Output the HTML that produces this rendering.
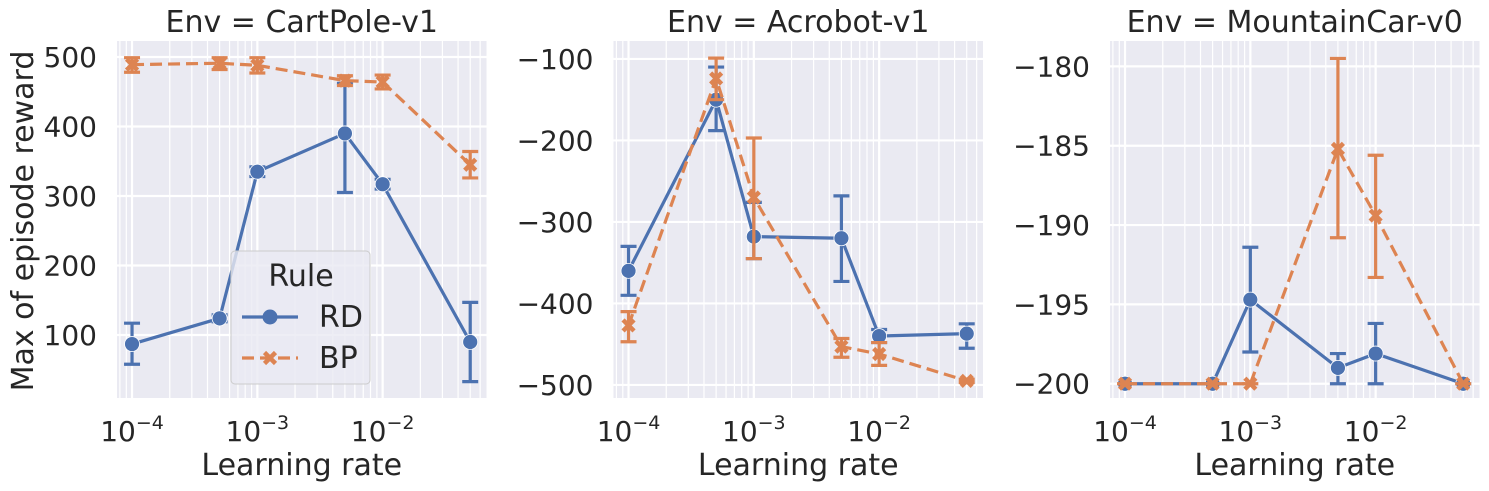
<!DOCTYPE html>
<html><head><meta charset="utf-8"><style>
html,body{margin:0;padding:0;background:#fff;}
svg{display:block;font-family:"DejaVu Sans","Liberation Sans",sans-serif;}
</style></head><body>
<svg id="chart" width="1489" height="491" viewBox="0 0 1489 491" xmlns="http://www.w3.org/2000/svg"></svg>
<script>
const lrs = [1e-4, 5e-4, 1e-3, 5e-3, 1e-2, 5e-2];
const envNames = ["CartPole-v1", "Acrobot-v1", "MountainCar-v0"];
const rdCart = [87, 124, 335, 390, 317, 90];
const rdCartLo = [58, 119, 328, 305, 310, 33];
const rdCartHi = [117, 129, 342, 462, 324, 147];
const bpCart = [489, 491, 488, 466, 464, 345];
const bpCartLo = [478, 482, 477, 459, 454, 326];
const bpCartHi = [499, 499, 499, 473, 474, 364];
const rdAcro = [-360, -150, -318, -320, -440, -437];
const rdAcroLo = [-390, -188, -345, -373, -448, -455];
const rdAcroHi = [-330, -110, -276, -268, -432, -425];
const bpAcro = [-427, -124, -270, -453, -462, -495];
const bpAcroLo = [-447, -150, -345, -466, -476, -497];
const bpAcroHi = [-410, -99, -197, -443, -448, -493];
const rdMC = [-200, -200, -194.7, -199, -198.1, -200];
const rdMCLo = [-200, -200, -198, -200, -200, -200];
const rdMCHi = [-200, -200, -191.4, -198.1, -196.2, -200];
const bpMC = [-200, -200, -200, -185.2, -189.4, -200];
const bpMCLo = [-200, -200, -200, -190.8, -193.3, -200];
const bpMCHi = [-200, -200, -200, -179.5, -185.6, -200];
const yTicksCart = [100, 200, 300, 400, 500];
const yTicksAcro = [-500, -400, -300, -200, -100];
const yTicksMC = [-200, -195, -190, -185, -180];
const xTickExps = [-4, -3, -2];

const NS = "http://www.w3.org/2000/svg";
const svg = document.getElementById("chart");
function mk(tag, attrs, parent) {
  const e = document.createElementNS(NS, tag);
  for (const k in attrs) e.setAttribute(k, attrs[k]);
  (parent || svg).appendChild(e);
  return e;
}
const BLUE = "#4c72b0", ORANGE = "#dd8452";
const FS = 28;
const panels = [
  {left:117, ymin:9.4, ymax:523, ticks:yTicksCart, rd:[rdCart,rdCartLo,rdCartHi], bp:[bpCart,bpCartLo,bpCartHi], fmt:v=>String(v)},
  {left:613.5, ymin:-516, ymax:-78, ticks:yTicksAcro, rd:[rdAcro,rdAcroLo,rdAcroHi], bp:[bpAcro,bpAcroLo,bpAcroHi], fmt:v=>"\u2212"+Math.abs(v)},
  {left:1110, ymin:-200.9, ymax:-178.4, ticks:yTicksMC, rd:[rdMC,rdMCLo,rdMCHi], bp:[bpMC,bpMCLo,bpMCHi], fmt:v=>"\u2212"+Math.abs(v)}
];
const TOP = 41, BOT = 398, W = 369.5;
const XMIN = -4.12, XMAX = XMIN + W / 125.3;

panels.forEach((p, i) => {
  const g = mk("g", {});
  
  
  const xs = v => p.left + (Math.log10(v) - XMIN) / (XMAX - XMIN) * W;
  const ys = v => BOT - (v - p.ymin) / (p.ymax - p.ymin) * (BOT - TOP);
  const bg = mk("rect", {x:p.left, y:TOP, width:W, height:BOT-TOP, fill:"#eaeaf2"}, g);
  
  
  for (let d = -5; d <= -1; d++) for (let m = 2; m <= 9; m++) {
    const v = m * Math.pow(10, d);
    if (Math.log10(v) < XMIN || Math.log10(v) > XMAX) continue;
    const gl = mk("line", {x1:xs(v), x2:xs(v), y1:TOP, y2:BOT, stroke:"#fff", "stroke-width":1.2}, g);
    
    
  }
  xTickExps.forEach(e => {
    const x = xs(Math.pow(10, e));
    const gl = mk("line", {x1:x, x2:x, y1:TOP, y2:BOT, stroke:"#fff", "stroke-width":2.2}, g);
    
    
    const t = mk("text", {x:x, y:441, "font-size":FS, fill:"#262626", "text-anchor":"middle"}, g);
    
    
    t.innerHTML = '10<tspan dy="-12" font-size="19">\u2212' + Math.abs(e) + '</tspan>';
  });
  p.ticks.forEach(v => {
    const y = ys(v);
    const gl = mk("line", {x1:p.left, x2:p.left+W, y1:y, y2:y, stroke:"#fff", "stroke-width":2.2}, g);
    
    
    const t = mk("text", {x:p.left-20, y:y+10, "font-size":FS, fill:"#262626", "text-anchor":"end"}, g);
    
    
    t.textContent = p.fmt(v);
  });
  const title = mk("text", {x:p.left+W/2, y:32, "font-size":30, fill:"#262626", "text-anchor":"middle"}, g);
  
  
  title.textContent = "Env = " + envNames[i];
  const xl = mk("text", {x:p.left+W/2, y:475, "font-size":30, fill:"#262626", "text-anchor":"middle"}, g);
  
  
  xl.textContent = "Learning rate";

  function series(arr, color, dashed, name) {
    const [val, lo, hi] = arr;
    const sg = mk("g", {}, g);
    
    
    const pts = lrs.map((l, k) => xs(l) + "," + ys(val[k])).join(" ");
    const pl = mk("polyline", {points:pts, fill:"none", stroke:color, "stroke-width":3.2, "stroke-dasharray": dashed ? "12,6" : "none"}, sg);
    
    
    lrs.forEach((l, k) => {
      const x = xs(l);
      const eb = mk("path", {d:`M${x},${ys(lo[k])}V${ys(hi[k])}M${x-8},${ys(lo[k])}H${x+8}M${x-8},${ys(hi[k])}H${x+8}`, stroke:color, "stroke-width":3.2, fill:"none"}, sg);
      
      
      const y = ys(val[k]);
      let m;
      if (dashed) {
        m = mk("path", {d:`M${x-5.5},${y-5.5}L${x+5.5},${y+5.5}M${x+5.5},${y-5.5}L${x-5.5},${y+5.5}`, stroke:color, "stroke-width":4.5}, sg);
      } else {
        m = mk("circle", {cx:x, cy:y, r:7.5, fill:color, stroke:"#fff", "stroke-width":0.8}, sg);
      }
      
      
    });
  }
  series(p.rd, BLUE, false, "rd");
  series(p.bp, ORANGE, true, "bp");
});

const yl = mk("text", {x:0, y:0, "font-size":30, fill:"#262626", "text-anchor":"middle", transform:"translate(33,221) rotate(-90)"});


yl.textContent = "Max of episode reward";

const lg = mk("g", {});


const lb = mk("rect", {x:231, y:251, width:139, height:133, rx:4, fill:"#eaeaf2", "fill-opacity":0.8, stroke:"#cccccc", "stroke-width":1}, lg);


const lt = mk("text", {x:301, y:286, "font-size":30, fill:"#262626", "text-anchor":"middle"}, lg);


lt.textContent = "Rule";
const e1 = mk("g", {}, lg);


mk("line", {x1:242, x2:298, y1:317, y2:317, stroke:BLUE, "stroke-width":3.2}, e1);
mk("circle", {cx:270, cy:317, r:7.5, fill:BLUE}, e1);
const t1 = mk("text", {x:319, y:327, "font-size":30, fill:"#262626"}, e1);
t1.textContent = "RD";
const e2 = mk("g", {}, lg);


mk("line", {x1:242, x2:298, y1:358, y2:358, stroke:ORANGE, "stroke-width":3.2, "stroke-dasharray":"12,6"}, e2);
mk("path", {d:"M264.5,352.5L275.5,363.5M275.5,352.5L264.5,363.5", stroke:ORANGE, "stroke-width":4.5}, e2);
const t2 = mk("text", {x:319, y:368, "font-size":30, fill:"#262626"}, e2);
t2.textContent = "BP";
</script>
</body></html>
